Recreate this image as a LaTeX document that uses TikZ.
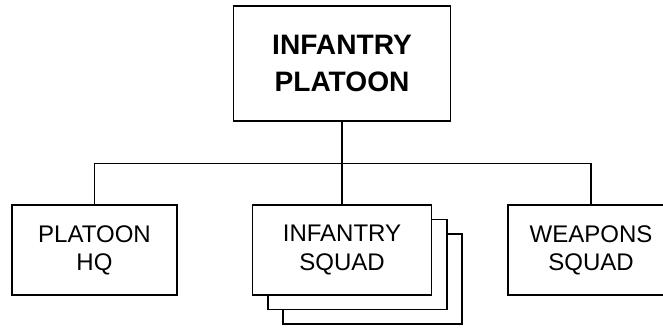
\documentclass[tikz,border=0pt]{standalone}
\usepackage{fontspec}
\setmainfont{Liberation Sans}
\begin{document}
\begin{tikzpicture}[x=0.03cm, y=-0.03cm, line width=1.1pt,
    unitbox/.style={draw, fill=white, inner sep=0pt, align=center,
      font=\fontsize{20.5}{24}\selectfont}]

  \clip (0,0) rectangle (663,327);

  % Platoon headquarters box on top
  \node[unitbox, minimum width=217*0.03cm, minimum height=115*0.03cm,
    font=\fontsize{24}{31}\selectfont\bfseries] (platoon) at (342,63.5) {INFANTRY\\PLATOON};

  % Elements of the platoon
  \node[unitbox, minimum width=165*0.03cm, minimum height=90*0.03cm] (hq) at (94.5,250) {PLATOON\\HQ};
  \node[unitbox, minimum width=179*0.03cm, minimum height=90*0.03cm] (squadC) at (372.5,279) {};
  \node[unitbox, minimum width=179*0.03cm, minimum height=90*0.03cm] (squadB) at (357.5,264.5) {};
  \node[unitbox, minimum width=179*0.03cm, minimum height=90*0.03cm] (squad) at (342,250) {INFANTRY\\SQUAD};
  \node[unitbox, minimum width=166*0.03cm, minimum height=90*0.03cm] (weapons) at (591,250) {WEAPONS\\SQUAD};

  % Connectors
  \path (platoon.south) ++(0,42) coordinate (bus);
  \draw (hq.north) |- (bus) -| (weapons.north);
  \draw (platoon.south) -- (squad.north);
\end{tikzpicture}
\end{document}
